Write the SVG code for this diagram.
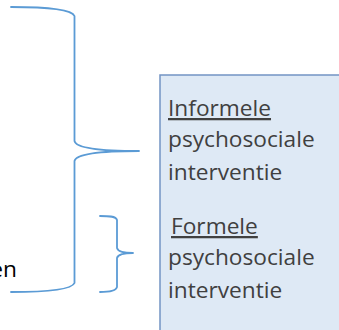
<svg xmlns="http://www.w3.org/2000/svg" width="339" height="330" viewBox="0 0 339 330">
<style>
.brace{fill:none;stroke:#5b9bd5;stroke-width:1.8;stroke-linecap:round;stroke-linejoin:round}
.t{font-family:"Open Sans","Liberation Sans",sans-serif;font-size:22.7px;fill:#404040}
.u{text-decoration:underline}
</style>
<rect width="339" height="330" fill="#ffffff"/>
<g id="box">
<rect x="160" y="75" width="190" height="270" fill="#dee9f5" stroke="#7394c4" stroke-width="1.5"/>
<text class="t u" x="168" y="116">Informele</text>
<text class="t" x="168" y="147">psychosociale</text>
<text class="t" x="168" y="180">interventie</text>
<text class="t u" x="171" y="234">Formele</text>
<text class="t" x="168" y="265">psychosociale</text>
<text class="t" x="168" y="298">interventie</text>
</g>
<g id="left-text">
<text class="t" x="17" y="277" text-anchor="end" style="fill:#000">en</text>
</g>
<g id="connectors">
<path id="big-brace" class="brace" d="M11,7 C50,7 72,10 74.5,16 L74.5,141 C76,148 100,151 139,151 C100,151 76,154 74.5,161 L74.5,283 C72,289 50,292 11,292"/>
<path id="small-brace" class="brace" d="M100,216 C108,216 116,216 117,220 L117,248 C118,252 124,253 133,253 C124,253 118,254 117,258 L117,287 C116,291 108,292 100,292"/>
</g>
</svg>
